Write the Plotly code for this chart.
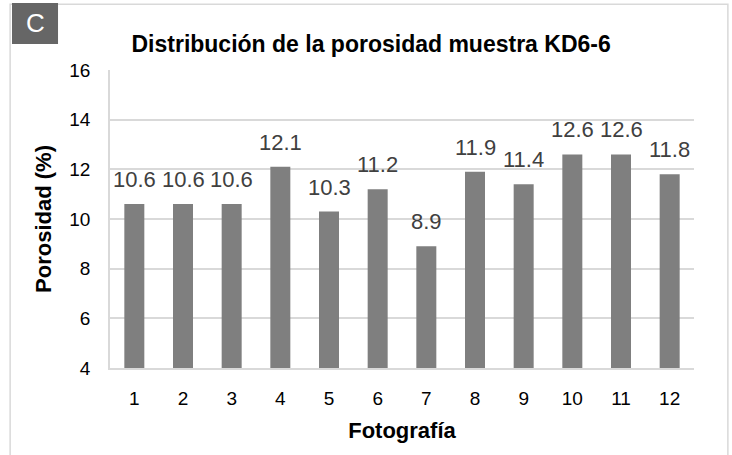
import plotly.graph_objects as go

photos = [1, 2, 3, 4, 5, 6, 7, 8, 9, 10, 11, 12]
porosity = [10.6, 10.6, 10.6, 12.1, 10.3, 11.2, 8.9, 11.9, 11.4, 12.6, 12.6, 11.8]
labels = [f"{v:.1f}" for v in porosity]
y_ticks = [4, 6, 8, 10, 12, 14, 16]

FONT = "Liberation Sans, Arial, sans-serif"

fig = go.Figure(go.Bar(
    x=photos, y=porosity,
    marker=dict(color="#7f7f7f", line=dict(width=0)),
    hoverinfo="x+y",
))

annotations = [
    dict(x=c, y=v, text=t, xref="x", yref="y", showarrow=False, xanchor="center",
         yanchor="bottom", yshift=10, font=dict(size=22, color="#404040", family=FONT))
    for c, v, t in zip(photos, porosity, labels)
]
annotations.append(
    dict(text="C", xref="paper", yref="paper", x=-0.1284, y=1.158, xanchor="center",
         yanchor="middle", showarrow=False, font=dict(size=26, color="white", family=FONT))
)

fig.update_layout(
    width=732, height=455,
    margin=dict(l=110, r=38, t=70, b=87),
    paper_bgcolor="white", plot_bgcolor="white",
    bargap=0.589,
    showlegend=False,
    font=dict(family=FONT, color="#000000"),
    title=dict(text="<b>Distribución de la porosidad muestra KD6-6</b>",
               x=0.507, xanchor="center", y=0.904, yanchor="middle",
               font=dict(size=23, color="#000000", family=FONT)),
    xaxis=dict(range=[0.5, 12.5], tickvals=photos, ticktext=[str(p) for p in photos],
               showgrid=False, zeroline=False, showline=True, linecolor="#d9d9d9",
               linewidth=1.5, ticks="", tickfont=dict(size=19, color="#000000"),
               ticklabelstandoff=12,
               title=dict(text="<b>Fotografía</b>", font=dict(size=22), standoff=15)),
    yaxis=dict(range=[4, 16], tickvals=y_ticks, showgrid=True, gridcolor="#d9d9d9",
               gridwidth=1.5, showline=True, linecolor="#d9d9d9", linewidth=1.5,
               zeroline=False, ticks="", tickfont=dict(size=19, color="#000000"),
               ticklabelstandoff=14,
               title=dict(text="<b>Porosidad (%)</b>", font=dict(size=22), standoff=12)),
    shapes=[
        dict(type="rect", xref="paper", yref="paper", x0=-0.171, x1=1.058, y0=-0.5, y1=1.221,
             line=dict(color="#d9d9d9", width=1.5), fillcolor="rgba(0,0,0,0)", layer="below"),
        dict(type="rect", xref="paper", yref="paper", x0=-0.1678, x1=-0.089, y0=1.087, y1=1.2248,
             line=dict(width=0), fillcolor="#666666"),
    ],
    annotations=annotations,
)

fig.write_html("out.html", config={"displayModeBar": False},
               post_script="document.body.style.margin='0';")
